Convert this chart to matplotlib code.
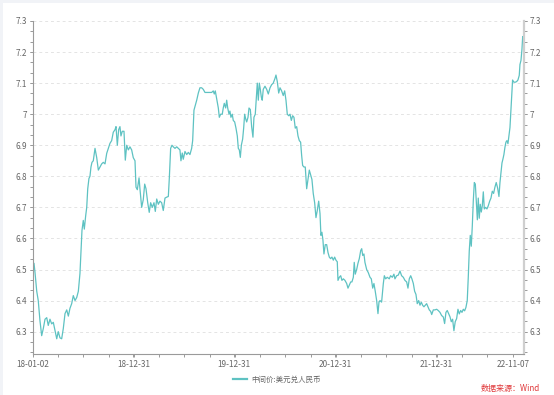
import numpy as np
import pandas as pd
import matplotlib
matplotlib.use("Agg")
import matplotlib.pyplot as plt
from matplotlib.lines import Line2D
from matplotlib.patches import Rectangle

plt.rcParams['font.family'] = ['Noto Sans CJK SC', 'DejaVu Sans']

# ---- data (years since 2018-01-02, USD/CNY central parity) ----
start_date = "2018-01-02"
t_years = [
    0.000, 0.010, 0.020, 0.037, 0.052, 0.069, 0.086, 0.102, 0.119, 0.136, 0.151, 0.168, 0.185, 0.201,
    0.218, 0.235, 0.250, 0.267, 0.284, 0.300, 0.317, 0.334, 0.350, 0.366, 0.383, 0.399, 0.416, 0.433,
    0.449, 0.465, 0.475, 0.485, 0.498, 0.508, 0.522, 0.532, 0.542, 0.554, 0.564, 0.574, 0.584, 0.597,
    0.614, 0.631, 0.647, 0.663, 0.680, 0.696, 0.713, 0.730, 0.746, 0.762, 0.779, 0.795, 0.812,
    0.822, 0.835, 0.848, 0.861, 0.871, 0.884, 0.901, 0.914, 0.928, 0.944, 0.960, 0.977, 0.993, 1.010,
    1.020, 1.033, 1.050, 1.059, 1.076, 1.092, 1.106, 1.119, 1.136, 1.151, 1.165, 1.181, 1.198, 1.211,
    1.225, 1.241, 1.257, 1.274, 1.290, 1.307, 1.324, 1.340, 1.350, 1.363, 1.376, 1.389, 1.406, 1.423,
    1.439, 1.455, 1.465, 1.478, 1.488, 1.505, 1.522, 1.538, 1.554, 1.571, 1.581, 1.594, 1.604,
    1.621, 1.637, 1.653, 1.670, 1.686, 1.703, 1.720, 1.736, 1.752, 1.769, 1.785, 1.795, 1.805, 1.819,
    1.835, 1.845, 1.858, 1.874, 1.884, 1.894, 1.908, 1.918, 1.928, 1.941, 1.950, 1.960, 1.973, 1.983,
    1.997, 2.010, 2.023, 2.033, 2.043, 2.053, 2.063, 2.076, 2.086, 2.096, 2.106, 2.116, 2.129, 2.139,
    2.152, 2.165, 2.178, 2.188, 2.201, 2.211, 2.221, 2.231, 2.241, 2.251, 2.261, 2.270, 2.280, 2.297,
    2.314, 2.330, 2.347,
    2.363, 2.379, 2.396, 2.406, 2.419, 2.433, 2.446, 2.462, 2.478, 2.492, 2.505, 2.518, 2.532, 2.545,
    2.558, 2.571, 2.584, 2.597, 2.611, 2.624, 2.637, 2.650, 2.660, 2.670, 2.683, 2.696, 2.710, 2.723,
    2.736, 2.749, 2.762, 2.775, 2.789, 2.802, 2.815, 2.829, 2.842, 2.851, 2.861, 2.871, 2.881, 2.894,
    2.908, 2.921, 2.934, 2.947, 2.960, 2.974, 2.987, 3.000, 3.013, 3.020, 3.033, 3.047, 3.059, 3.073,
    3.089, 3.106, 3.119, 3.132, 3.146, 3.158, 3.172,
    3.181, 3.191, 3.205, 3.218, 3.231, 3.245, 3.255, 3.265, 3.277, 3.287, 3.304, 3.320, 3.337, 3.350,
    3.364, 3.376, 3.389, 3.403, 3.416, 3.426, 3.436, 3.452, 3.469, 3.479, 3.492, 3.508, 3.528, 3.541,
    3.558, 3.574, 3.584, 3.601, 3.617, 3.634, 3.650, 3.667, 3.683, 3.700, 3.713, 3.726, 3.740, 3.752,
    3.766, 3.779, 3.792, 3.805, 3.819, 3.832, 3.845, 3.858, 3.871, 3.884, 3.898, 3.911, 3.924, 3.938,
    3.948, 3.964,
    3.980, 3.997, 4.013, 4.030, 4.046, 4.063, 4.076, 4.089, 4.102, 4.116, 4.129, 4.142, 4.155, 4.168,
    4.181, 4.195, 4.208, 4.221, 4.235, 4.248, 4.261, 4.274, 4.287, 4.300, 4.310, 4.320, 4.330, 4.340,
    4.350, 4.360, 4.370, 4.380, 4.390, 4.400, 4.409, 4.419, 4.429, 4.439, 4.449, 4.459, 4.469, 4.482,
    4.495, 4.508, 4.522, 4.535, 4.548, 4.561, 4.574, 4.587, 4.601, 4.614, 4.624, 4.634, 4.644, 4.653,
    4.663, 4.673, 4.683, 4.693, 4.703, 4.713, 4.723, 4.733, 4.743, 4.749, 4.762, 4.776, 4.789, 4.802,
    4.815, 4.822, 4.832, 4.842, 4.849, 4.858,
]
rate = [
    6.500, 6.520, 6.490, 6.430, 6.400, 6.335, 6.287, 6.310, 6.340, 6.345, 6.320, 6.340, 6.325, 6.330,
    6.303, 6.277, 6.300, 6.280, 6.277, 6.310, 6.358, 6.370, 6.350, 6.375, 6.390, 6.416, 6.400, 6.410,
    6.430, 6.487, 6.560, 6.626, 6.658, 6.630, 6.674, 6.700, 6.760, 6.793, 6.800, 6.830, 6.845, 6.850,
    6.890, 6.860, 6.820, 6.830, 6.840, 6.845, 6.840, 6.874, 6.890, 6.906, 6.915, 6.942, 6.950,
    6.960, 6.900, 6.950, 6.960, 6.930, 6.945, 6.945, 6.852, 6.900, 6.885, 6.895, 6.885, 6.860, 6.850,
    6.765, 6.757, 6.795, 6.760, 6.700, 6.725, 6.775, 6.760, 6.715, 6.684, 6.715, 6.700, 6.715, 6.687,
    6.727, 6.710, 6.720, 6.715, 6.690, 6.730, 6.733, 6.735, 6.795, 6.890, 6.900, 6.895, 6.890, 6.895,
    6.890, 6.885, 6.850, 6.875, 6.855, 6.880, 6.870, 6.877, 6.870, 6.890, 6.915, 7.013, 7.025,
    7.045, 7.068, 7.085, 7.085, 7.080, 7.070, 7.070, 7.070, 7.070, 7.070, 7.075, 7.065, 7.075, 7.050,
    7.020, 6.990, 7.000, 7.000, 7.020, 7.035, 7.020, 7.045, 7.020, 7.000, 7.010, 6.990, 7.000, 6.980,
    6.975, 6.955, 6.930, 6.890, 6.885, 6.861, 6.900, 6.920, 6.955, 7.000, 6.985, 6.975, 6.990, 7.020,
    7.015, 6.960, 6.926, 6.990, 7.000, 7.050, 7.100, 7.045, 7.100, 7.080, 7.055, 7.045, 7.080, 7.090,
    7.080, 7.065, 7.085,
    7.095, 7.100, 7.115, 7.126, 7.105, 7.068, 7.085, 7.075, 7.060, 7.075, 7.045, 7.000, 6.995, 7.000,
    6.980, 6.995, 6.990, 6.955, 6.960, 6.930, 6.915, 6.910, 6.868, 6.835, 6.830, 6.830, 6.760, 6.790,
    6.820, 6.805, 6.790, 6.745, 6.715, 6.667, 6.690, 6.720, 6.680, 6.610, 6.620, 6.595, 6.550, 6.580,
    6.580, 6.555, 6.540, 6.535, 6.540, 6.530, 6.540, 6.530, 6.525, 6.465, 6.475, 6.480, 6.465, 6.470,
    6.465, 6.455, 6.440, 6.450, 6.460, 6.460, 6.475,
    6.523, 6.485, 6.500, 6.520, 6.535, 6.561, 6.567, 6.545, 6.550, 6.523, 6.500, 6.490, 6.475, 6.470,
    6.440, 6.455, 6.430, 6.400, 6.358, 6.395, 6.400, 6.395, 6.455, 6.480, 6.470, 6.475, 6.470, 6.480,
    6.475, 6.485, 6.470, 6.480, 6.482, 6.495, 6.480, 6.475, 6.465, 6.460, 6.440, 6.470, 6.480, 6.470,
    6.455, 6.430, 6.420, 6.390, 6.400, 6.385, 6.395, 6.385, 6.380, 6.385, 6.390, 6.380, 6.370, 6.365,
    6.355, 6.370,
    6.370, 6.372, 6.368, 6.362, 6.352, 6.347, 6.326, 6.362, 6.368, 6.358, 6.348, 6.332, 6.340, 6.303,
    6.332, 6.342, 6.372, 6.357, 6.368, 6.362, 6.372, 6.367, 6.378, 6.400, 6.474, 6.560, 6.610, 6.575,
    6.640, 6.722, 6.780, 6.775, 6.720, 6.660, 6.730, 6.665, 6.710, 6.685, 6.705, 6.750, 6.695, 6.700,
    6.695, 6.705, 6.720, 6.730, 6.752, 6.745, 6.765, 6.780, 6.762, 6.735, 6.780, 6.810, 6.843, 6.855,
    6.870, 6.893, 6.910, 6.915, 6.905, 6.930, 6.957, 7.015, 7.070, 7.110, 7.103, 7.103, 7.105, 7.110,
    7.125, 7.160, 7.173, 7.210, 7.250, 7.235,
]
series_name = "中间价:美元兑人民币"
source_text = "数据来源：Wind"

tick_dates = ["2018-01-02", "2018-12-31", "2019-12-31", "2020-12-31", "2021-12-31"]
tick_labels = ["18-01-02", "18-12-31", "19-12-31", "20-12-31", "21-12-31"]
last_label = "22-11-07"
y_ticks = [6.3, 6.4, 6.5, 6.6, 6.7, 6.8, 6.9, 7.0, 7.1, 7.2, 7.3]

# ---- figure ----
fig = plt.figure(figsize=(5.54, 3.95), dpi=100)
fig.patch.set_facecolor("white")
# faint page edge at top and left
fig.add_artist(Rectangle((0, 1 - 3 / 395), 1, 3 / 395, transform=fig.transFigure,
                         facecolor="#f1f3f7", edgecolor="none"))
fig.add_artist(Rectangle((0, 0), 3 / 554, 1, transform=fig.transFigure,
                         facecolor="#f1f3f7", edgecolor="none"))

ax = fig.add_axes([33 / 554, 1 - 354 / 395, (524 - 33) / 554, (354 - 21) / 395])

t0 = pd.Timestamp(start_date)
x = [t0 + pd.Timedelta(days=v * 365.25) for v in t_years]
ax.plot(x, rate, color="#5ec2c2", lw=0.9, solid_joinstyle="round")

x_end = t0 + pd.Timedelta(days=4.862 * 365.25)
ax.set_xlim(t0, x_end)
ax.set_ylim(6.228, 7.3)

# ticks
major_x = [pd.Timestamp(d) for d in tick_dates]
quarter = [t0 + pd.Timedelta(days=q * 0.25 * 365.25) for q in range(0, 20)]
last_tick = quarter[-1]
ax.set_xticks(major_x + [last_tick])
ax.set_xticklabels(tick_labels + [last_label])
ax.set_xticks(quarter, minor=True)

ax.set_yticks(y_ticks)
ax.set_yticklabels([f"{v:g}" for v in y_ticks])
ax.set_yticks(np.arange(6.2333, 7.31, 0.1 / 3), minor=True)

gray = "#666666"
ax.tick_params(axis="both", which="both", colors="#9a9a9a", labelcolor=gray,
               labelsize=5.9, length=2.5, width=0.7, pad=2)
ax.tick_params(axis="y", which="both", left=True, right=True, labelleft=True,
               labelright=True, pad=1.5)

ax.spines["top"].set_visible(False)
ax.spines["left"].set_color("#9a9a9a")
ax.spines["left"].set_linewidth(0.8)
ax.spines["bottom"].set_color("#9a9a9a")
ax.spines["bottom"].set_linewidth(0.8)
ax.spines["right"].set_color("#cfcfcf")
ax.spines["right"].set_linewidth(1.6)

ax.grid(axis="y", which="major", color="#e4e4e4", ls=(0, (3, 3)), lw=0.7)
ax.set_axisbelow(True)

handle = Line2D([], [], color="#5ec2c2", lw=1.6)
fig.legend([handle], [series_name], loc="center", bbox_to_anchor=(0.5, 1 - 380 / 395),
           frameon=False, fontsize=5.4, labelcolor=gray, handlelength=1.9,
           handletextpad=0.5)

fig.text(540 / 554, 1 - 388 / 395, source_text, color="#e0383a", fontsize=5.8,
         ha="right", va="center")

fig.savefig("out.png", dpi=100, facecolor="white")
